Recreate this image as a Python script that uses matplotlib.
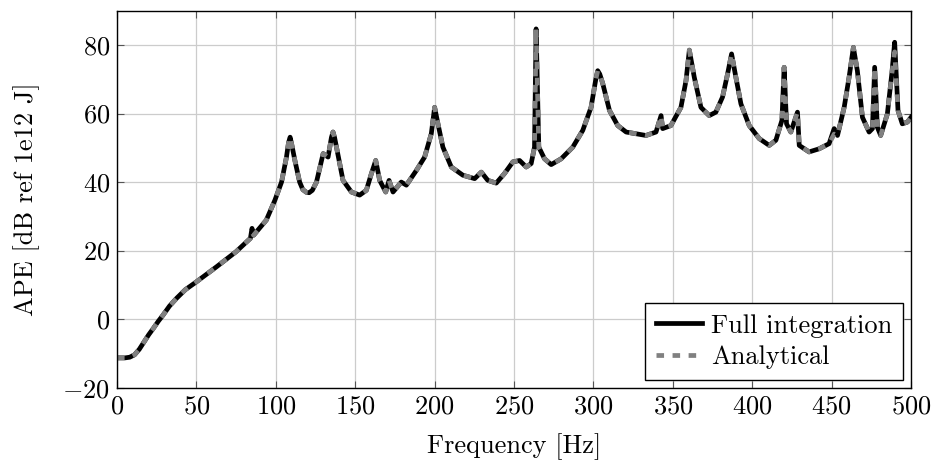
import matplotlib
matplotlib.use('Agg')
import matplotlib.pyplot as plt

plt.rcParams['font.family'] = 'cmr10'
plt.rcParams['mathtext.fontset'] = 'cm'
plt.rcParams['axes.formatter.use_mathtext'] = True

# values
freq = [0, 5, 8, 11, 14, 16.5, 20, 23, 26, 29, 33, 37.5, 43, 50, 62.7, 75, 84,
        85, 86, 94, 99.4, 103.6, 106.7, 108, 109, 110, 112, 115, 117, 119.3,
        121, 123, 125.6, 129.8, 132.9, 135, 136, 137, 138.2, 142.3, 147.6,
        152.8, 157, 160.2, 162.9, 165.4, 169.2, 171.3, 173.8, 179, 182.2,
        188.5, 193.7, 197.9, 200, 202.1, 205.2, 210.5, 217.8, 225.2, 229.4,
        233.5, 238.8, 244, 249.3, 253.5, 257.7, 260.8, 262.9, 263.9, 265.6,
        269.2, 273.4, 279.7, 287, 293.3, 298.5, 301.5, 302.7, 304, 305.9,
        310.1, 315.3, 320.6, 326.9, 333.1, 339.4, 342.6, 343.6, 348.8, 355.1,
        358.3, 360.4, 363.5, 367.7, 372.9, 377.1, 381.3, 384.5, 387, 389.7,
        392.9, 398.1, 404.4, 410.7, 414.9, 418.7, 420.1, 421.6, 424.3, 428.5,
        429.6, 435.8, 442.1, 448.4, 451.6, 453.7, 457.9, 461, 463.7, 466.2,
        469.4, 473.6, 475.7, 477.1, 478.8, 480.9, 485.1, 487.9, 489.7, 491.8,
        494.5, 497.7, 500]
full_ape = [-11.3, -11.3, -11.1, -10.4, -8.8, -7.0, -4.5, -2.6, -0.6, 1.2, 3.8,
            6.1, 8.6, 10.9, 15.3, 19.7, 23.6, 26.5, 24.5, 28.9, 34.7, 40.0,
            47.3, 51.5, 53.1, 51.0, 46.3, 40.0, 37.8, 37.0, 36.9, 37.6, 40.0,
            48.3, 47.3, 53.0, 54.6, 53.0, 50.2, 40.5, 37.1, 36.2, 37.6, 42.5,
            46.3, 40.5, 37.1, 40.5, 37.1, 40.0, 39.1, 43.4, 47.3, 54.1, 61.8,
            57.0, 50.2, 44.4, 42.0, 41.0, 42.9, 40.5, 39.7, 42.5, 45.9, 46.3,
            44.4, 45.4, 50.2, 84.7, 50.2, 46.8, 45.1, 46.8, 50.2, 55.1, 61.8,
            70.0, 72.5, 71.5, 68.7, 60.9, 56.5, 54.6, 54.1, 53.6, 54.6, 59.4,
            55.6, 56.5, 61.8, 69.6, 78.5, 70.6, 61.8, 59.4, 60.4, 64.8, 71.6,
            77.4, 70.6, 62.8, 56.5, 52.7, 50.7, 52.2, 58.0, 73.5, 57.0, 54.6,
            60.4, 50.7, 48.8, 49.7, 51.2, 55.6, 53.6, 61.8, 70.6, 79.3, 72.5,
            58.9, 54.6, 55.6, 73.5, 56.0, 53.6, 59.9, 71.6, 80.8, 60.9, 57.0,
            57.5, 58.9]
analytical_ape = [-11.3, -11.3, -11.1, -10.4, -8.8, -7.0, -4.5, -2.6, -0.6, 1.2,
                  3.8, 6.1, 8.6, 10.9, 15.3, 19.7, 23.6, 25.5, 24.5, 28.9,
                  34.7, 40.0, 47.3, 51.5, 53.1, 51.0, 46.3, 40.0, 37.8, 37.0,
                  36.9, 37.6, 40.0, 48.3, 47.3, 53.0, 54.6, 53.0, 50.2, 40.5,
                  37.1, 36.2, 37.6, 42.5, 46.3, 40.5, 37.1, 40.5, 37.1, 40.0,
                  39.1, 43.4, 47.3, 54.1, 61.8, 57.0, 50.2, 44.4, 42.0, 41.0,
                  42.9, 40.5, 39.7, 42.5, 45.9, 46.3, 44.4, 45.4, 50.2, 84.7,
                  50.2, 46.8, 45.1, 46.8, 50.2, 55.1, 61.8, 70.0, 72.5, 71.5,
                  68.7, 60.9, 56.5, 54.6, 54.1, 53.6, 54.6, 59.4, 55.6, 56.5,
                  61.8, 69.6, 78.5, 70.6, 61.8, 59.4, 60.4, 64.8, 71.6, 77.4,
                  70.6, 62.8, 56.5, 52.7, 50.7, 52.2, 58.0, 73.5, 57.0, 54.6,
                  60.4, 50.7, 48.8, 49.7, 51.2, 54.0, 53.6, 61.8, 70.6, 79.3,
                  72.5, 58.9, 54.6, 55.6, 73.5, 56.0, 53.6, 59.9, 71.6, 78.0,
                  60.9, 57.0, 57.5, 58.9]

fig = plt.figure(figsize=(9.34, 4.62), dpi=100)
ax = fig.add_axes([0.1253, 0.1608, 0.8501, 0.816])

ax.plot(freq, full_ape, color='black', lw=3.4, label='Full integration')
ax.plot(freq, analytical_ape, color='#808080', lw=3.4, dashes=(1.6, 1.8),
        label='Analytical')

ax.set_xlim(0, 500)
ax.set_ylim(-20, 90)
ax.set_xticks(range(0, 501, 50))
ax.set_yticks(range(-20, 81, 20))
ax.grid(True, color='#cccccc', lw=0.9)
ax.set_axisbelow(True)
ax.tick_params(direction='in', length=5, width=0.8, color='#555555',
               top=True, right=True, labelsize=19, pad=5)
for s in ax.spines.values():
    s.set_linewidth(1.0)

ax.set_xlabel('Frequency [Hz]', fontsize=19, labelpad=11)
ax.set_ylabel('APE [dB ref 1e12 J]', fontsize=19, labelpad=16)

leg = ax.legend(loc='lower right', fontsize=19, fancybox=False,
                edgecolor='black', framealpha=1, borderaxespad=0.3,
                handlelength=1.75, borderpad=0.4, labelspacing=0.3,
                handletextpad=0.35)
leg.get_frame().set_linewidth(1.0)

plt.savefig('out.png', dpi=100)
